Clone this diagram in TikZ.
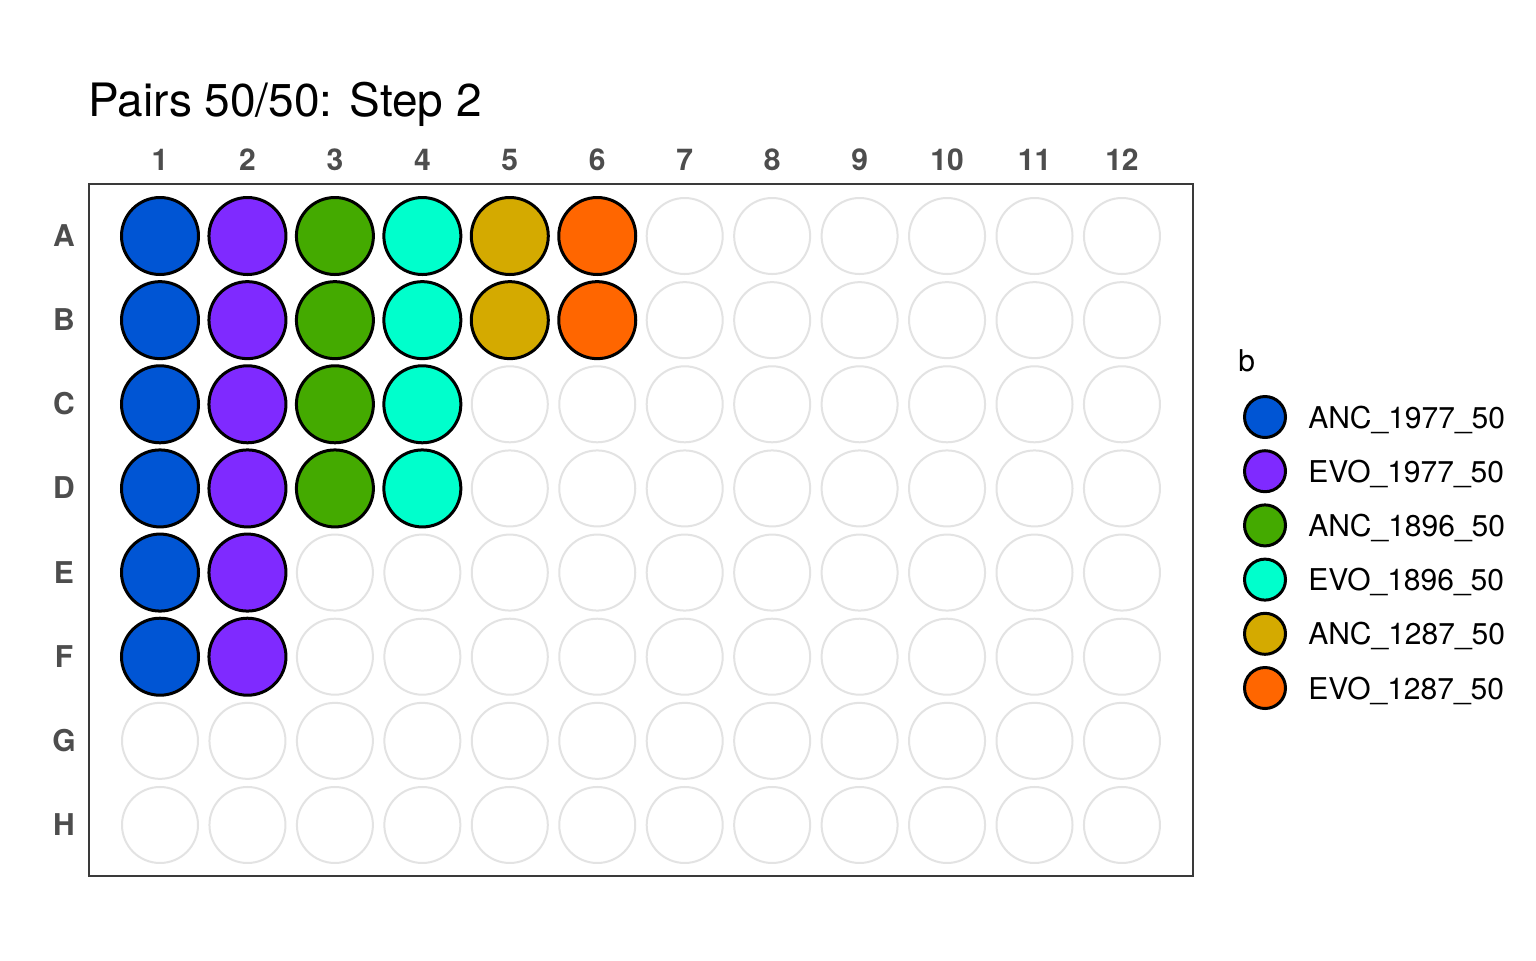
\documentclass[tikz,border=0pt]{standalone}
\usepackage{fontspec}
\setmainfont{TeX Gyre Heros}
\definecolor{cANCa}{HTML}{0055D4}
\definecolor{cEVOa}{HTML}{7F2AFF}
\definecolor{cANCb}{HTML}{44AA00}
\definecolor{cEVOb}{HTML}{00FFCC}
\definecolor{cANCc}{HTML}{D4AA00}
\definecolor{cEVOc}{HTML}{FF6600}
\definecolor{axgray}{HTML}{4D4D4D}
\definecolor{framegray}{HTML}{3A3A3A}
\definecolor{wellgray}{HTML}{E3E3E3}
\begin{document}
\begin{tikzpicture}[x=0.5pt,y=-0.5pt,
  emptywell/.style={circle,draw=wellgray,line width=1pt,fill=white,minimum size=38pt,inner sep=0pt},
  fullwell/.style={circle,draw=black,line width=1.5pt,minimum size=38.5pt,inner sep=0pt},
  legwell/.style={circle,draw=black,line width=1.5pt,minimum size=20.5pt,inner sep=0pt},
  collab/.style={anchor=base,inner sep=0pt,text=axgray,font=\fontsize{15}{18}\selectfont\bfseries},
  rowlab/.style={anchor=base,inner sep=0pt,text=axgray,font=\fontsize{15}{18}\selectfont\bfseries},
  leglab/.style={anchor=base west,inner sep=0pt,font=\fontsize{15}{18}\selectfont},
  titletext/.style={anchor=base west,inner sep=0pt,font=\fontsize{23}{27}\selectfont}]
\useasboundingbox[fill=white] (0,0) rectangle (1536,960);
\node[titletext] (title) at (88,116) {Pairs 50/50: Step 2};
\draw[framegray,line width=1pt] (89,184) rectangle (1193,876);
% column labels
\foreach \c in {1,...,12}{
  \pgfmathsetmacro{\xx}{160+(\c-1)*87.45}
  \node[collab] (col\c) at (\xx,170) {\c};
}
% row labels
\foreach \r/\L in {1/A,2/B,3/C,4/D,5/E,6/F,7/G,8/H}{
  \pgfmathsetmacro{\yy}{236+(\r-1)*84.14}
  \node[rowlab] (row\L) at (64,\yy+10.5) {\L};
}
% empty wells
\foreach \r in {1,...,8}{
  \foreach \c in {1,...,12}{
    \pgfmathsetmacro{\xx}{160+(\c-1)*87.45}
    \pgfmathsetmacro{\yy}{236+(\r-1)*84.14}
    \node[emptywell] (w\r-\c) at (\xx,\yy) {};
  }
}
% filled wells
\foreach \r/\c/\col in {1/1/cANCa,2/1/cANCa,3/1/cANCa,4/1/cANCa,5/1/cANCa,6/1/cANCa,
  1/2/cEVOa,2/2/cEVOa,3/2/cEVOa,4/2/cEVOa,5/2/cEVOa,6/2/cEVOa,
  1/3/cANCb,2/3/cANCb,3/3/cANCb,4/3/cANCb,
  1/4/cEVOb,2/4/cEVOb,3/4/cEVOb,4/4/cEVOb,
  1/5/cANCc,2/5/cANCc,1/6/cEVOc,2/6/cEVOc}{
  \pgfmathsetmacro{\xx}{160+(\c-1)*87.45}
  \pgfmathsetmacro{\yy}{236+(\r-1)*84.14}
  \node[fullwell,fill=\col] (f\r-\c) at (\xx,\yy) {};
}
% legend
\node[anchor=base west,inner sep=0pt,font=\fontsize{15}{18}\selectfont] (legtitle) at (1238,371) {b};
\foreach \i/\col/\txt in {0/cANCa/ANC\_1977\_50,1/cEVOa/EVO\_1977\_50,2/cANCb/ANC\_1896\_50,3/cEVOb/EVO\_1896\_50,4/cANCc/ANC\_1287\_50,5/cEVOc/EVO\_1287\_50}{
  \pgfmathsetmacro{\yy}{417+\i*54.2}
  \node[legwell,fill=\col] (lk\i) at (1265,\yy) {};
  \node[leglab] (ll\i) at (1308,\yy+11) {\txt};
}
\end{tikzpicture}
\end{document}
